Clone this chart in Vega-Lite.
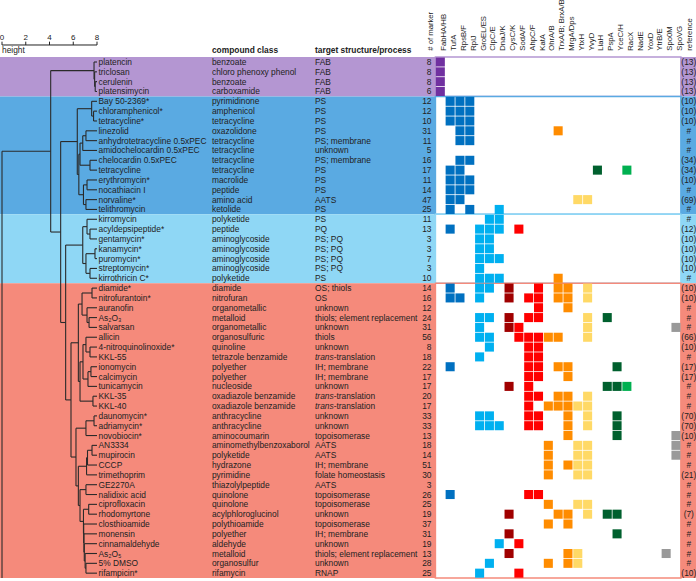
{
"$schema":"https://vega.github.io/schema/vega-lite/v6.json",
"width":696,"height":581,"padding":0,"autosize":{"type":"none"},
"background":"#ffffff",
"config":{"view":{"stroke":null},"text":{"font":"Liberation Sans","fontSize":8.4,"color":"#222222"}},
"datasets":{
"groups":[{"group":"FAB","start":-0.5,"end":3.5},{"group":"PS","start":3.5,"end":15.5},{"group":"PS/PQ","start":15.5,"end":22.5},{"group":"other","start":22.5,"end":52.5}],
"rows":[
{"row":0,"name":"platencin","cls":"benzoate","target":"FAB","n":8,"ref":"(13)"},
{"row":1,"name":"triclosan","cls":"chloro phenoxy phenol","target":"FAB","n":8,"ref":"(13)"},
{"row":2,"name":"cerulenin","cls":"benzoate","target":"FAB","n":8,"ref":"(13)"},
{"row":3,"name":"platensimycin","cls":"carboxamide","target":"FAB","n":6,"ref":"(13)"},
{"row":4,"name":"Bay 50-2369*","cls":"pyrimidinone","target":"PS","n":12,"ref":"(10)"},
{"row":5,"name":"chloramphenicol*","cls":"amphenicol","target":"PS","n":12,"ref":"(10)"},
{"row":6,"name":"tetracycline*","cls":"tetracycline","target":"PS","n":10,"ref":"(10)"},
{"row":7,"name":"linezolid","cls":"oxazolidone","target":"PS","n":31,"ref":"#"},
{"row":8,"name":"anhydrotetracycline 0.5xPEC","cls":"tetracycline","target":"PS; membrane","n":11,"ref":"#"},
{"row":9,"name":"amidochelocardin 0.5xPEC","cls":"tetracycline","target":"unknown","n":5,"ref":"#"},
{"row":10,"name":"chelocardin 0.5xPEC","cls":"tetracycline","target":"PS; membrane","n":16,"ref":"(34)"},
{"row":11,"name":"tetracycline","cls":"tetracycline","target":"PS","n":17,"ref":"(34)"},
{"row":12,"name":"erythromycin*","cls":"macrolide","target":"PS","n":11,"ref":"(10)"},
{"row":13,"name":"nocathiacin I","cls":"peptide","target":"PS","n":14,"ref":"#"},
{"row":14,"name":"norvaline*","cls":"amino acid","target":"AATS","n":47,"ref":"(69)"},
{"row":15,"name":"telithromycin","cls":"ketolide","target":"PS","n":25,"ref":"#"},
{"row":16,"name":"kirromycin","cls":"polyketide","target":"PS","n":11,"ref":"#"},
{"row":17,"name":"acyldepsipeptide*","cls":"peptide","target":"PQ","n":13,"ref":"(12)"},
{"row":18,"name":"gentamycin*","cls":"aminoglycoside","target":"PS; PQ","n":3,"ref":"(10)"},
{"row":19,"name":"kanamycin*","cls":"aminoglycoside","target":"PS; PQ","n":3,"ref":"(10)"},
{"row":20,"name":"puromycin*","cls":"aminoglycoside","target":"PS; PQ","n":7,"ref":"(10)"},
{"row":21,"name":"streptomycin*","cls":"aminoglycoside","target":"PS; PQ","n":3,"ref":"(10)"},
{"row":22,"name":"kirrothricin C*","cls":"polyketide","target":"PS","n":10,"ref":"#"},
{"row":23,"name":"diamide*","cls":"diamide","target":"OS; thiols","n":14,"ref":"(10)"},
{"row":24,"name":"nitrofurantoin*","cls":"nitrofuran","target":"OS","n":16,"ref":"(10)"},
{"row":25,"name":"auranofin","cls":"organometallic","target":"unknown","n":12,"ref":"#"},
{"row":26,"name":"As₂O₃","cls":"metalloid","target":"thiols; element replacement","n":24,"ref":"#"},
{"row":27,"name":"salvarsan","cls":"organometallic","target":"unknown","n":31,"ref":"#"},
{"row":28,"name":"allicin","cls":"organosulfuric","target":"thiols","n":56,"ref":"(66)"},
{"row":29,"name":"4-nitroquinolinoxide*","cls":"quinoline","target":"unknown","n":8,"ref":"(10)"},
{"row":30,"name":"KKL-55","cls":"tetrazole benzamide","target":"trans-translation","n":18,"ref":"#"},
{"row":31,"name":"ionomycin","cls":"polyether","target":"IH; membrane","n":22,"ref":"(17)"},
{"row":32,"name":"calcimycin","cls":"polyether","target":"IH; membrane","n":17,"ref":"(17)"},
{"row":33,"name":"tunicamycin","cls":"nucleoside","target":"unknown","n":17,"ref":"#"},
{"row":34,"name":"KKL-35","cls":"oxadiazole benzamide","target":"trans-translation","n":20,"ref":"#"},
{"row":35,"name":"KKL-40","cls":"oxadiazole benzamide","target":"trans-translation","n":17,"ref":"#"},
{"row":36,"name":"daunomycin*","cls":"anthracycline","target":"unknown","n":33,"ref":"(70)"},
{"row":37,"name":"adriamycin*","cls":"anthracycline","target":"unknown","n":33,"ref":"(70)"},
{"row":38,"name":"novobiocin*","cls":"aminocoumarin","target":"topoisomerase","n":13,"ref":"(10)"},
{"row":39,"name":"AN3334","cls":"aminomethylbenzoxaborol","target":"AATS","n":18,"ref":"#"},
{"row":40,"name":"mupirocin","cls":"polyketide","target":"AATS","n":14,"ref":"#"},
{"row":41,"name":"CCCP","cls":"hydrazone","target":"IH; membrane","n":51,"ref":"#"},
{"row":42,"name":"trimethoprim","cls":"pyrimidine","target":"folate homeostasis","n":30,"ref":"(21)"},
{"row":43,"name":"GE2270A","cls":"thiazolylpeptide","target":"AATS","n":3,"ref":"#"},
{"row":44,"name":"nalidixic acid","cls":"quinolone","target":"topoisomerase","n":26,"ref":"#"},
{"row":45,"name":"ciprofloxacin","cls":"quinolone","target":"topoisomerase","n":25,"ref":"#"},
{"row":46,"name":"rhodomyrtone","cls":"acylphloroglucinol","target":"unknown","n":19,"ref":"(7)"},
{"row":47,"name":"closthioamide","cls":"polythioamide","target":"topoisomerase","n":37,"ref":"#"},
{"row":48,"name":"monensin","cls":"polyether","target":"IH; membrane","n":31,"ref":"#"},
{"row":49,"name":"cinnamaldehyde","cls":"aldehyde","target":"unknown","n":19,"ref":"#"},
{"row":50,"name":"As₂O₅","cls":"metalloid","target":"thiols; element replacement","n":13,"ref":"#"},
{"row":51,"name":"5% DMSO","cls":"organosulfur","target":"unknown","n":28,"ref":"#"},
{"row":52,"name":"rifampicin*","cls":"rifamycin","target":"RNAP","n":25,"ref":"(10)"}
],
"nodes":[
{"h":7.85,"ya":2,"ha":8,"yb":3,"hb":8},
{"h":7.8,"ya":1,"ha":8,"yb":2.5,"hb":7.85},
{"h":7.75,"ya":0,"ha":8,"yb":1.75,"hb":7.8},
{"h":7.71,"ya":5,"ha":8,"yb":6,"hb":8},
{"h":7.55,"ya":4,"ha":8,"yb":5.5,"hb":7.71},
{"h":7.07,"ya":7,"ha":8,"yb":8,"hb":8},
{"h":6.8,"ya":7.5,"ha":7.07,"yb":9,"hb":8},
{"h":7.41,"ya":10,"ha":8,"yb":11,"hb":8},
{"h":6.57,"ya":8.25,"ha":6.8,"yb":10.5,"hb":7.41},
{"h":7.16,"ya":12,"ha":8,"yb":13,"hb":8},
{"h":7.07,"ya":14,"ha":8,"yb":15,"hb":8},
{"h":6.86,"ya":12.5,"ha":7.16,"yb":14.5,"hb":7.07},
{"h":6.47,"ya":9.375,"ha":6.57,"yb":13.5,"hb":6.86},
{"h":6.34,"ya":4.75,"ha":7.55,"yb":11.4375,"hb":6.47},
{"h":7.41,"ya":17,"ha":8,"yb":18,"hb":8},
{"h":7.16,"ya":16,"ha":8,"yb":17.5,"hb":7.41},
{"h":7.83,"ya":19,"ha":8,"yb":20,"hb":8},
{"h":7.41,"ya":21,"ha":8,"yb":22,"hb":8},
{"h":7.07,"ya":19.5,"ha":7.83,"yb":21.5,"hb":7.41},
{"h":6.8,"ya":16.75,"ha":7.16,"yb":20.5,"hb":7.07},
{"h":7.58,"ya":23,"ha":8,"yb":24,"hb":8},
{"h":7.33,"ya":26,"ha":8,"yb":27,"hb":8},
{"h":7.16,"ya":25,"ha":8,"yb":26.5,"hb":7.33},
{"h":6.74,"ya":23.5,"ha":7.58,"yb":25.75,"hb":7.16},
{"h":7.41,"ya":29,"ha":8,"yb":30,"hb":8},
{"h":7.07,"ya":28,"ha":8,"yb":29.5,"hb":7.41},
{"h":7.49,"ya":31,"ha":8,"yb":32,"hb":8},
{"h":7.24,"ya":31.5,"ha":7.49,"yb":33,"hb":8},
{"h":6.82,"ya":28.75,"ha":7.07,"yb":32.25,"hb":7.24},
{"h":7.66,"ya":34,"ha":8,"yb":35,"hb":8},
{"h":6.57,"ya":30.5,"ha":6.82,"yb":34.5,"hb":7.66},
{"h":6.43,"ya":24.625,"ha":6.74,"yb":32.5,"hb":6.57},
{"h":7.75,"ya":36,"ha":8,"yb":37,"hb":8},
{"h":7.07,"ya":36.5,"ha":7.75,"yb":38,"hb":8},
{"h":7.58,"ya":39,"ha":8,"yb":40,"hb":8},
{"h":7.2,"ya":39.5,"ha":7.58,"yb":41,"hb":8},
{"h":7.12,"ya":40.25,"ha":7.2,"yb":42,"hb":8},
{"h":7.07,"ya":43,"ha":8,"yb":44,"hb":8},
{"h":7.3,"ya":45,"ha":8,"yb":46,"hb":8},
{"h":7.07,"ya":51,"ha":8,"yb":52,"hb":8},
{"h":7.0,"ya":50,"ha":8,"yb":51.5,"hb":7.07},
{"h":6.93,"ya":49,"ha":8,"yb":50.75,"hb":7.0},
{"h":6.9,"ya":48,"ha":8,"yb":49.875,"hb":6.93},
{"h":6.88,"ya":47,"ha":8,"yb":48.9375,"hb":6.9},
{"h":6.86,"ya":45.5,"ha":7.3,"yb":47.969,"hb":6.88},
{"h":6.57,"ya":43.5,"ha":7.07,"yb":46.734,"hb":6.86},
{"h":6.43,"ya":41.125,"ha":7.12,"yb":45.117,"hb":6.57},
{"h":6.23,"ya":37.25,"ha":7.07,"yb":43.121,"hb":6.43},
{"h":5.81,"ya":28.5625,"ha":6.43,"yb":40.186,"hb":6.23},
{"h":5.36,"ya":18.625,"ha":6.8,"yb":34.374,"hb":5.81},
{"h":4.94,"ya":8.094,"ha":6.34,"yb":26.5,"hb":5.36},
{"h":4.1,"ya":0.875,"ha":7.75,"yb":17.297,"hb":4.94},
{"h":0,"ya":9.086,"ha":4.1,"yb":52.5,"hb":0}
],
"ticks":[{"v":0},{"v":2},{"v":4},{"v":6},{"v":8}],
"headers":[{"label":"FabHA/HB"},{"label":"TufA"},{"label":"RpsB/F"},{"label":"RplJ"},{"label":"GroEL/ES"},{"label":"ClpC/E"},{"label":"DnaJ/K"},{"label":"CysC/K"},{"label":"SodA/F"},{"label":"AhpC/F"},{"label":"KatA"},{"label":"OhrA/B"},{"label":"TrxA/B; BrxA/B"},{"label":"MrgA/Dps"},{"label":"YtxH"},{"label":"YvyD"},{"label":"LiaH"},{"label":"PspA"},{"label":"YceC/H"},{"label":"RacX"},{"label":"NadE"},{"label":"YoxD"},{"label":"YtrB/E"},{"label":"Spo0M"},{"label":"SpoVG"},{"label":"reference"}],
"cells":[
{"row":0,"m":["FabHA/HB"]},{"row":1,"m":["FabHA/HB"]},{"row":2,"m":["FabHA/HB"]},{"row":3,"m":["FabHA/HB"]},
{"row":4,"m":["TufA","RpsB/F","RplJ"]},{"row":5,"m":["TufA","RpsB/F","RplJ"]},{"row":6,"m":["TufA","RpsB/F","RplJ"]},
{"row":7,"m":["RpsB/F","RplJ","TrxA/B; BrxA/B"]},{"row":8,"m":["RpsB/F","RplJ"]},{"row":10,"m":["RpsB/F","RplJ"]},
{"row":11,"m":["TufA","RpsB/F","LiaH","RacX"]},{"row":12,"m":["TufA","RpsB/F","RplJ"]},{"row":13,"m":["TufA","RpsB/F","RplJ"]},
{"row":14,"m":["TufA","RpsB/F","YtxH","YvyD"]},{"row":15,"m":["TufA","RplJ","DnaJ/K"]},
{"row":16,"m":["ClpC/E","DnaJ/K"]},{"row":17,"m":["TufA","GroEL/ES","ClpC/E","DnaJ/K","SodA/F"]},
{"row":18,"m":["GroEL/ES","ClpC/E"]},{"row":19,"m":["GroEL/ES","ClpC/E"]},{"row":20,"m":["GroEL/ES","ClpC/E","DnaJ/K"]},
{"row":21,"m":["GroEL/ES"]},{"row":22,"m":["GroEL/ES","ClpC/E","DnaJ/K","TrxA/B; BrxA/B"]},
{"row":23,"m":["TufA","GroEL/ES","ClpC/E","CysC/K","KatA","TrxA/B; BrxA/B","MrgA/Dps","YvyD"]},
{"row":24,"m":["TufA","RpsB/F","GroEL/ES","CysC/K","AhpC/F","KatA","TrxA/B; BrxA/B","MrgA/Dps","YvyD"]},
{"row":25,"m":["KatA","MrgA/Dps"]},
{"row":26,"m":["GroEL/ES","ClpC/E","CysC/K","AhpC/F","KatA","YvyD","PspA"]},
{"row":27,"m":["GroEL/ES","CysC/K","SodA/F","YvyD","SpoVG"]},
{"row":28,"m":["GroEL/ES","ClpC/E","SodA/F","AhpC/F","KatA","OhrA/B","TrxA/B; BrxA/B","YvyD"]},
{"row":29,"m":["ClpC/E","AhpC/F","KatA"]},
{"row":30,"m":["GroEL/ES","AhpC/F","KatA"]},
{"row":31,"m":["TufA","AhpC/F","KatA","TrxA/B; BrxA/B","MrgA/Dps","YceC/H"]},
{"row":32,"m":["AhpC/F","KatA","MrgA/Dps"]},
{"row":33,"m":["CysC/K","AhpC/F","PspA","YceC/H","RacX"]},
{"row":34,"m":["AhpC/F","KatA","TrxA/B; BrxA/B","MrgA/Dps","YvyD"]},
{"row":35,"m":["AhpC/F","OhrA/B","TrxA/B; BrxA/B","MrgA/Dps","YtxH","YvyD"]},
{"row":36,"m":["GroEL/ES","ClpC/E","AhpC/F","KatA","MrgA/Dps","YvyD","YceC/H"]},
{"row":37,"m":["GroEL/ES","ClpC/E","DnaJ/K","AhpC/F","KatA","MrgA/Dps","YvyD","YceC/H"]},
{"row":38,"m":["MrgA/Dps","YceC/H","SpoVG"]},
{"row":39,"m":["OhrA/B","YtxH","YvyD","SpoVG"]},
{"row":40,"m":["OhrA/B","YtxH","YvyD","SpoVG"]},
{"row":41,"m":["OhrA/B","MrgA/Dps","YtxH","YvyD"]},
{"row":42,"m":["OhrA/B","YtxH","YvyD"]},
{"row":44,"m":["TufA","AhpC/F","KatA"]},
{"row":45,"m":["OhrA/B","YtxH","YvyD"]},
{"row":46,"m":["CysC/K","TrxA/B; BrxA/B","MrgA/Dps","YvyD","PspA","YceC/H"]},
{"row":47,"m":["OhrA/B","MrgA/Dps"]},
{"row":48,"m":["CysC/K","YceC/H"]},
{"row":49,"m":["DnaJ/K","SodA/F"]},
{"row":50,"m":["CysC/K","MrgA/Dps","YtxH","Spo0M"]},
{"row":51,"m":["ClpC/E","OhrA/B","MrgA/Dps","YtxH"]},
{"row":52,"m":["GroEL/ES","SodA/F"]}
]
},
"layer":[
{"layer":[
{"data":{"name":"groups"},"mark":{"type":"rect"},
 "encoding":{"x":{"value":0},"x2":{"value":"width"},
  "y":{"field":"start","type":"quantitative","scale":{"domain":[-6.307,52.797],"reverse":true,"nice":false,"zero":false},"axis":null},
  "y2":{"field":"end"},
  "fill":{"field":"group","type":"nominal","scale":{"domain":["FAB","PS","PS/PQ","other"],"range":["#b496d2","#5aaae2","#8fd7f5","#f58a7b"]},"legend":null}}},
{"data":{"name":"nodes"},"mark":{"type":"rule","color":"#2a2a2a","strokeWidth":1.1},
 "encoding":{"x":{"field":"h","type":"quantitative","scale":{"domain":[0,8],"range":[2,97],"nice":false,"zero":false},"axis":null},
  "y":{"field":"ya","type":"quantitative","scale":{"domain":[-6.307,52.797],"reverse":true,"nice":false,"zero":false},"axis":null},"y2":{"field":"yb"}}},
{"data":{"name":"nodes"},"mark":{"type":"rule","color":"#2a2a2a","strokeWidth":1.1},
 "encoding":{"x":{"field":"h","type":"quantitative","scale":{"domain":[0,8],"range":[2,97],"nice":false,"zero":false},"axis":null},"x2":{"field":"ha"},
  "y":{"field":"ya","type":"quantitative","scale":{"domain":[-6.307,52.797],"reverse":true,"nice":false,"zero":false},"axis":null}}},
{"data":{"name":"nodes"},"mark":{"type":"rule","color":"#2a2a2a","strokeWidth":1.1},
 "encoding":{"x":{"field":"h","type":"quantitative","scale":{"domain":[0,8],"range":[2,97],"nice":false,"zero":false},"axis":null},"x2":{"field":"hb"},
  "y":{"field":"yb","type":"quantitative","scale":{"domain":[-6.307,52.797],"reverse":true,"nice":false,"zero":false},"axis":null}}},
{"data":{"values":[{"t":"axis"}]},"mark":{"type":"rule","color":"#222222","strokeWidth":1},
 "encoding":{"x":{"datum":0,"type":"quantitative","scale":{"domain":[0,8],"range":[2,97],"nice":false,"zero":false},"axis":null},"x2":{"datum":8},
  "y":{"datum":-1.73,"type":"quantitative","scale":{"domain":[-6.307,52.797],"reverse":true,"nice":false,"zero":false},"axis":null}}},
{"data":{"name":"ticks"},"mark":{"type":"rule","color":"#222222","strokeWidth":1},
 "encoding":{"x":{"field":"v","type":"quantitative","scale":{"domain":[0,8],"range":[2,97],"nice":false,"zero":false},"axis":null},
  "y":{"datum":-1.73,"type":"quantitative","scale":{"domain":[-6.307,52.797],"reverse":true,"nice":false,"zero":false},"axis":null},"y2":{"datum":-2.07}}},
{"data":{"name":"ticks"},"mark":{"type":"text","baseline":"alphabetic","fontSize":8},
 "encoding":{"x":{"field":"v","type":"quantitative","scale":{"domain":[0,8],"range":[2,97],"nice":false,"zero":false},"axis":null},
  "y":{"datum":-2.28,"type":"quantitative","scale":{"domain":[-6.307,52.797],"reverse":true,"nice":false,"zero":false},"axis":null},"text":{"field":"v","type":"nominal"}}},
{"data":{"values":[{"t":"height"}]},"mark":{"type":"text","align":"left","baseline":"alphabetic"},
 "encoding":{"x":{"datum":0,"type":"quantitative","scale":{"domain":[0,8],"range":[2,97],"nice":false,"zero":false},"axis":null},
  "y":{"datum":-0.95,"type":"quantitative","scale":{"domain":[-6.307,52.797],"reverse":true,"nice":false,"zero":false},"axis":null},"text":{"field":"t","type":"nominal"}}},
{"data":{"values":[{"t":"compound class"}]},"mark":{"type":"text","align":"left","baseline":"alphabetic","fontWeight":"bold"},
 "encoding":{"x":{"datum":17.68,"type":"quantitative","scale":{"domain":[0,8],"range":[2,97],"nice":false,"zero":false},"axis":null},
  "y":{"datum":-0.95,"type":"quantitative","scale":{"domain":[-6.307,52.797],"reverse":true,"nice":false,"zero":false},"axis":null},"text":{"field":"t","type":"nominal"}}},
{"data":{"values":[{"t":"target structure/process"}]},"mark":{"type":"text","align":"left","baseline":"alphabetic","fontWeight":"bold"},
 "encoding":{"x":{"datum":26.36,"type":"quantitative","scale":{"domain":[0,8],"range":[2,97],"nice":false,"zero":false},"axis":null},
  "y":{"datum":-0.95,"type":"quantitative","scale":{"domain":[-6.307,52.797],"reverse":true,"nice":false,"zero":false},"axis":null},"text":{"field":"t","type":"nominal"}}},
{"data":{"name":"rows"},"mark":{"type":"text","align":"left","baseline":"middle","dx":1.5},
 "encoding":{"x":{"datum":8,"type":"quantitative","scale":{"domain":[0,8],"range":[2,97],"nice":false,"zero":false},"axis":null},
  "y":{"field":"row","type":"quantitative","scale":{"domain":[-6.307,52.797],"reverse":true,"nice":false,"zero":false},"axis":null},"text":{"field":"name","type":"nominal"}}},
{"data":{"name":"rows"},"mark":{"type":"text","align":"left","baseline":"middle"},
 "encoding":{"x":{"datum":17.68,"type":"quantitative","scale":{"domain":[0,8],"range":[2,97],"nice":false,"zero":false},"axis":null},
  "y":{"field":"row","type":"quantitative","scale":{"domain":[-6.307,52.797],"reverse":true,"nice":false,"zero":false},"axis":null},"text":{"field":"cls","type":"nominal"}}},
{"data":{"name":"rows"},"transform":[{"filter":"!test(/^trans-/, datum.target)"}],"mark":{"type":"text","align":"left","baseline":"middle"},
 "encoding":{"x":{"datum":26.36,"type":"quantitative","scale":{"domain":[0,8],"range":[2,97],"nice":false,"zero":false},"axis":null},
  "y":{"field":"row","type":"quantitative","scale":{"domain":[-6.307,52.797],"reverse":true,"nice":false,"zero":false},"axis":null},"text":{"field":"target","type":"nominal"}}},
{"data":{"name":"rows"},"transform":[{"filter":"test(/^trans-/, datum.target)"}],"mark":{"type":"text","align":"left","baseline":"middle","fontStyle":"italic"},
 "encoding":{"x":{"datum":26.36,"type":"quantitative","scale":{"domain":[0,8],"range":[2,97],"nice":false,"zero":false},"axis":null},
  "y":{"field":"row","type":"quantitative","scale":{"domain":[-6.307,52.797],"reverse":true,"nice":false,"zero":false},"axis":null},"text":{"value":"trans"}}},
{"data":{"name":"rows"},"transform":[{"filter":"test(/^trans-/, datum.target)"}],"mark":{"type":"text","align":"left","baseline":"middle","dx":18.6},
 "encoding":{"x":{"datum":26.36,"type":"quantitative","scale":{"domain":[0,8],"range":[2,97],"nice":false,"zero":false},"axis":null},
  "y":{"field":"row","type":"quantitative","scale":{"domain":[-6.307,52.797],"reverse":true,"nice":false,"zero":false},"axis":null},"text":{"value":"-translation"}}}
]},
{"layer":[
{"data":{"name":"groups"},"mark":{"type":"rect","fill":"#ffffff","strokeWidth":1.5},
 "encoding":{"x":{"datum":"FabHA/HB","type":"nominal","bandPosition":0,"scale":{"type":"band","domain":["# of marker","FabHA/HB","TufA","RpsB/F","RplJ","GroEL/ES","ClpC/E","DnaJ/K","CysC/K","SodA/F","AhpC/F","KatA","OhrA/B","TrxA/B; BrxA/B","MrgA/Dps","YtxH","YvyD","LiaH","PspA","YceC/H","RacX","NadE","YoxD","YtrB/E","Spo0M","SpoVG","reference"],"range":[425.6,690.7],"paddingInner":0,"paddingOuter":0},"axis":null},
  "x2":{"datum":"SpoVG","bandPosition":1},
  "y":{"field":"start","type":"quantitative","scale":{"domain":[-6.307,52.797],"reverse":true,"nice":false,"zero":false},"axis":null},"y2":{"field":"end"},
  "stroke":{"field":"group","type":"nominal","scale":{"domain":["FAB","PS","PS/PQ","other"],"range":["#b496d2","#5aaae2","#8fd7f5","#f58a7b"]},"legend":null}}},
{"data":{"name":"cells"},"transform":[{"flatten":["m"]}],"mark":{"type":"square","size":82,"opacity":1,"filled":true},
 "encoding":{"x":{"field":"m","type":"nominal","scale":{"type":"band","domain":["# of marker","FabHA/HB","TufA","RpsB/F","RplJ","GroEL/ES","ClpC/E","DnaJ/K","CysC/K","SodA/F","AhpC/F","KatA","OhrA/B","TrxA/B; BrxA/B","MrgA/Dps","YtxH","YvyD","LiaH","PspA","YceC/H","RacX","NadE","YoxD","YtrB/E","Spo0M","SpoVG","reference"],"range":[425.6,690.7],"paddingInner":0,"paddingOuter":0},"axis":null},
  "y":{"field":"row","type":"quantitative","scale":{"domain":[-6.307,52.797],"reverse":true,"nice":false,"zero":false},"axis":null},
  "color":{"field":"m","type":"nominal","scale":{"domain":["FabHA/HB","TufA","RpsB/F","RplJ","GroEL/ES","ClpC/E","DnaJ/K","CysC/K","SodA/F","AhpC/F","KatA","OhrA/B","TrxA/B; BrxA/B","MrgA/Dps","YtxH","YvyD","LiaH","PspA","YceC/H","RacX","NadE","YoxD","YtrB/E","Spo0M","SpoVG"],
   "range":["#7030a0","#0070c0","#0070c0","#0070c0","#00b0f0","#00b0f0","#00b0f0","#a00000","#ff0000","#ff0000","#ff0000","#ff8c00","#ff8c00","#ff8c00","#ffd966","#ffd966","#00602e","#00602e","#00602e","#00b050","#00b050","#00b050","#00b050","#999999","#999999"]},"legend":null}}},
{"data":{"name":"headers"},"mark":{"type":"text","angle":270,"align":"left","baseline":"middle","dy":4,"fontSize":7.7},
 "encoding":{"x":{"field":"label","type":"nominal","scale":{"type":"band","domain":["# of marker","FabHA/HB","TufA","RpsB/F","RplJ","GroEL/ES","ClpC/E","DnaJ/K","CysC/K","SodA/F","AhpC/F","KatA","OhrA/B","TrxA/B; BrxA/B","MrgA/Dps","YtxH","YvyD","LiaH","PspA","YceC/H","RacX","NadE","YoxD","YtrB/E","Spo0M","SpoVG","reference"],"range":[425.6,690.7],"paddingInner":0,"paddingOuter":0},"axis":null},
  "y":{"datum":-1.15,"type":"quantitative","scale":{"domain":[-6.307,52.797],"reverse":true,"nice":false,"zero":false},"axis":null},"text":{"field":"label","type":"nominal"}}},
{"data":{"values":[{"label":"# of marker"}]},"mark":{"type":"text","angle":270,"align":"left","baseline":"middle","fontSize":7.7},
 "encoding":{"x":{"field":"label","type":"nominal","scale":{"type":"band","domain":["# of marker","FabHA/HB","TufA","RpsB/F","RplJ","GroEL/ES","ClpC/E","DnaJ/K","CysC/K","SodA/F","AhpC/F","KatA","OhrA/B","TrxA/B; BrxA/B","MrgA/Dps","YtxH","YvyD","LiaH","PspA","YceC/H","RacX","NadE","YoxD","YtrB/E","Spo0M","SpoVG","reference"],"range":[425.6,690.7],"paddingInner":0,"paddingOuter":0},"axis":null},
  "y":{"datum":-1.15,"type":"quantitative","scale":{"domain":[-6.307,52.797],"reverse":true,"nice":false,"zero":false},"axis":null},"text":{"field":"label","type":"nominal"}}},
{"data":{"name":"rows"},"mark":{"type":"text","align":"right","baseline":"middle","dx":1},
 "encoding":{"x":{"datum":"# of marker","type":"nominal","scale":{"type":"band","domain":["# of marker","FabHA/HB","TufA","RpsB/F","RplJ","GroEL/ES","ClpC/E","DnaJ/K","CysC/K","SodA/F","AhpC/F","KatA","OhrA/B","TrxA/B; BrxA/B","MrgA/Dps","YtxH","YvyD","LiaH","PspA","YceC/H","RacX","NadE","YoxD","YtrB/E","Spo0M","SpoVG","reference"],"range":[425.6,690.7],"paddingInner":0,"paddingOuter":0},"axis":null},
  "y":{"field":"row","type":"quantitative","scale":{"domain":[-6.307,52.797],"reverse":true,"nice":false,"zero":false},"axis":null},"text":{"field":"n","type":"nominal"}}},
{"data":{"name":"rows"},"mark":{"type":"text","align":"center","baseline":"middle","dx":3},
 "encoding":{"x":{"datum":"reference","type":"nominal","scale":{"type":"band","domain":["# of marker","FabHA/HB","TufA","RpsB/F","RplJ","GroEL/ES","ClpC/E","DnaJ/K","CysC/K","SodA/F","AhpC/F","KatA","OhrA/B","TrxA/B; BrxA/B","MrgA/Dps","YtxH","YvyD","LiaH","PspA","YceC/H","RacX","NadE","YoxD","YtrB/E","Spo0M","SpoVG","reference"],"range":[425.6,690.7],"paddingInner":0,"paddingOuter":0},"axis":null},
  "y":{"field":"row","type":"quantitative","scale":{"domain":[-6.307,52.797],"reverse":true,"nice":false,"zero":false},"axis":null},"text":{"field":"ref","type":"nominal"}}}
]}
],
"resolve":{"scale":{"x":"independent"}}
}
